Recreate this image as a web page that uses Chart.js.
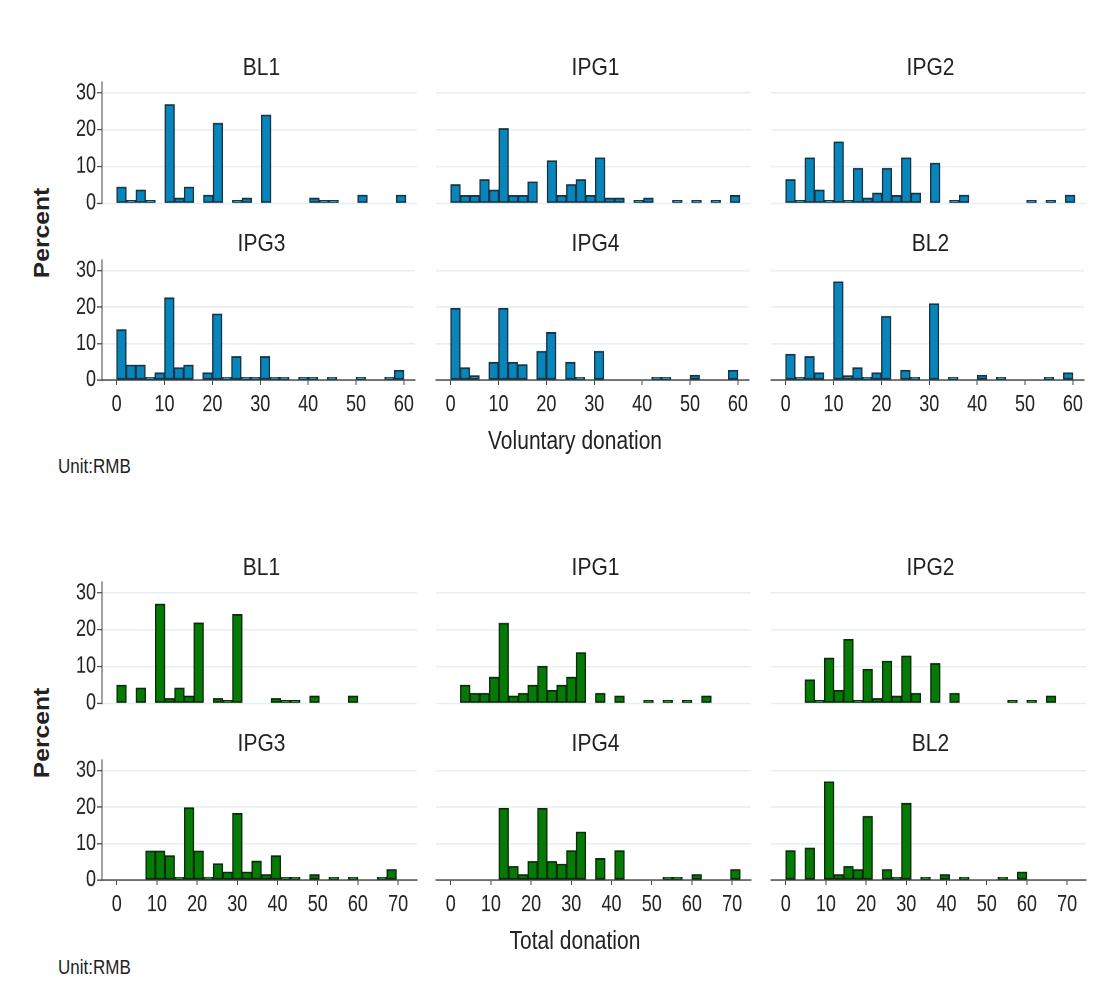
<!DOCTYPE html>
<html>
<head>
<meta charset="utf-8">
<script src="https://cdn.jsdelivr.net/npm/chart.js@4.4.0/dist/chart.umd.min.js"></script>
<style>
  body { margin: 0; background: #fff; }
  #page { position: relative; width: 1105px; height: 1001px; overflow: hidden; font-family: 'Liberation Sans', Arial, sans-serif; color: #222; }
  canvas { position: absolute; transform-origin: 0 0; }
  .lbl { position: absolute; white-space: nowrap; transform: translate(-50%, -50%); }
</style>
</head>
<body>
<div id="page"></div>
<script>
// groups shown in each block, in panel order
const groups = ['BL1', 'IPG1', 'IPG2', 'IPG3', 'IPG4', 'BL2'];

// histogram bins (30 bins per block)
const volBinWidth = 2;
const totBinWidth = 2.4;
const volTicks = [0, 10, 20, 30, 40, 50, 60];
const totTicks = [0, 10, 20, 30, 40, 50, 60, 70];
const pctTicks = [0, 10, 20, 30];

// percent in each bin, voluntary donation
const volBL1  = [4.4, 0.6, 3.6, 0.6, 0, 26.9, 1.4, 4.4, 0, 2.2, 21.8, 0, 0.6, 1.4, 0, 24.0, 0, 0, 0, 0, 1.4, 0.5, 0.5, 0, 0, 2.2, 0, 0, 0, 2.2];
const volIPG1 = [5.1, 2.1, 2.1, 6.5, 3.6, 20.3, 2.1, 2.1, 5.8, 0, 11.6, 2.1, 5.1, 6.5, 2.1, 12.4, 1.4, 1.4, 0, 0.6, 1.4, 0, 0, 0.6, 0, 0.6, 0, 0.6, 0, 2.1];
const volIPG2 = [6.5, 0.6, 12.4, 3.6, 0.6, 16.7, 0.6, 9.5, 1.4, 2.8, 9.5, 2.1, 12.4, 2.8, 0, 10.9, 0, 0.6, 2.2, 0, 0, 0, 0, 0, 0, 0.6, 0, 0.6, 0, 2.2];
const volIPG3 = [13.8, 4.1, 4.1, 0.5, 2.0, 22.6, 3.4, 4.1, 0, 2.0, 18.2, 0.5, 6.4, 0.5, 0.5, 6.4, 0.5, 0.5, 0, 0.5, 0.5, 0, 0.5, 0, 0, 0.5, 0, 0, 0.5, 2.7];
const volIPG4 = [19.7, 3.4, 1.2, 0, 4.9, 19.7, 4.9, 4.2, 0, 7.9, 13.1, 0, 4.9, 0.5, 0, 7.9, 0, 0, 0, 0, 0, 0.5, 0.5, 0, 0, 1.3, 0, 0, 0, 2.7];
const volBL2  = [7.1, 0.5, 6.4, 2.0, 0, 27.0, 1.2, 3.4, 0.5, 2.0, 17.5, 0, 2.7, 0.5, 0, 21.0, 0, 0.5, 0, 0, 1.3, 0, 0.5, 0, 0, 0, 0, 0.5, 0, 2.0];

// percent in each bin, total donation
const totBL1  = [4.9, 0, 4.2, 0, 27.0, 1.3, 4.2, 2.0, 21.9, 0, 1.3, 0.5, 24.2, 0, 0, 0, 1.3, 0.5, 0.5, 0, 2.0, 0, 0, 0, 2.0, 0, 0, 0, 0, 0];
const totIPG1 = [0, 4.9, 2.7, 2.7, 7.1, 21.8, 2.0, 2.7, 4.9, 10.1, 3.5, 4.9, 7.1, 13.8, 0, 2.7, 0, 2.0, 0, 0, 0.5, 0, 0.5, 0, 0.5, 0, 2.0, 0, 0, 0];
const totIPG2 = [0, 0, 6.4, 0.5, 12.3, 3.5, 17.4, 0.5, 9.3, 1.3, 11.5, 2.0, 12.9, 2.7, 0, 10.8, 0, 2.7, 0, 0, 0, 0, 0, 0.5, 0, 0.5, 0, 2.0, 0, 0];
const totIPG3 = [0, 0, 0, 8.0, 8.0, 6.7, 0.6, 19.9, 8.0, 0.6, 4.5, 2.2, 18.3, 2.2, 5.2, 1.5, 6.7, 0.6, 0.6, 0, 1.5, 0, 0.6, 0, 0.6, 0, 0, 0.6, 2.9, 0];
const totIPG4 = [0, 0, 0, 0, 0, 19.7, 3.7, 1.5, 5.1, 19.7, 5.1, 4.4, 8.1, 13.2, 0, 5.9, 0, 8.1, 0, 0, 0, 0, 0.6, 0.6, 0, 1.5, 0, 0, 0, 2.9];
const totBL2  = [8.1, 0, 8.8, 0, 27.0, 1.5, 3.7, 2.9, 17.5, 0, 2.9, 0.6, 21.1, 0, 0.6, 0, 1.5, 0, 0.6, 0, 0, 0, 0.6, 0, 2.2, 0, 0, 0, 0, 0];

const volData = [volBL1, volIPG1, volIPG2, volIPG3, volIPG4, volBL2];
const totData = [totBL1, totIPG1, totIPG2, totIPG3, totIPG4, totBL2];

const page = document.getElementById('page');
const FONT = "'Liberation Sans', Arial, sans-serif";
const AXIS = '#444';
const GRID = '#e8eff2';

// the source picture is stretched vertically; panels are drawn squeezed and scaled back up
const S = 1.25;
const colLeft = [102, 436, 771];
const plotW = 315;
const yAxisW = 45;
const xAxisH = 31;   // in unstretched canvas px
const padTop = 12;

function addLabel(text, x, y, css) {
  const d = document.createElement('div');
  d.className = 'lbl';
  d.textContent = text;
  d.style.left = x + 'px';
  d.style.top = y + 'px';
  Object.assign(d.style, css || {});
  page.appendChild(d);
}

function drawPanel(values, binW, xTicks, xMin, xMax, col, top, h, showX, fill, edge) {
  const showY = col === 0;
  const padBottom = showX ? 0 : 12;
  const areaH = Math.round(h / S);
  const canvas = document.createElement('canvas');
  canvas.width = yAxisW + plotW + 2;
  canvas.height = padTop + areaH + (showX ? xAxisH : padBottom);
  canvas.style.left = (colLeft[col] - yAxisW) + 'px';
  canvas.style.top = (top - padTop * S) + 'px';
  canvas.style.transform = 'scaleY(' + S + ')';
  page.appendChild(canvas);

  const pts = values.map((v, k) => ({ x: k * binW + binW / 2, y: v > 0 ? v : null }));

  new Chart(canvas.getContext('2d'), {
    type: 'bar',
    data: {
      datasets: [{
        data: pts,
        backgroundColor: fill,
        borderColor: edge,
        borderWidth: 1.4,
        borderSkipped: false,
        minBarLength: 2.2,
        barPercentage: 1,
        categoryPercentage: 1,
      }],
    },
    options: {
      responsive: false,
      animation: false,
      devicePixelRatio: 2,
      events: [],
      layout: { padding: { top: padTop, bottom: padBottom, left: 0, right: 2 } },
      plugins: { legend: { display: false }, tooltip: { enabled: false } },
      scales: {
        x: {
          type: 'linear',
          display: showX,
          offset: false,
          min: xMin,
          max: xMax,
          afterBuildTicks: s => { s.ticks = xTicks.map(v => ({ value: v })); },
          afterFit: s => { if (showX) s.height = xAxisH; },
          grid: { offset: false, drawOnChartArea: false, drawTicks: true, tickLength: 4, color: AXIS },
          border: { display: true, color: AXIS, width: 1 },
          ticks: { color: '#222', font: { family: FONT, size: 18 }, padding: 5, maxRotation: 0, autoSkip: false },
        },
        y: {
          min: 0,
          max: 33,
          afterBuildTicks: s => { s.ticks = pctTicks.map(v => ({ value: v })); },
          afterFit: s => { s.width = yAxisW; },
          grid: { color: GRID, lineWidth: 1.2, drawTicks: showY, tickLength: 5, tickColor: AXIS, tickWidth: 1 },
          border: { display: showY, color: AXIS, width: 1 },
          ticks: { display: showY, color: '#222', font: { family: FONT, size: 18 }, padding: 1 },
        },
      },
    },
  });
}

// block layout: chart-area tops and heights of the two rows (page px)
const blocks = [
  { data: volData, binW: volBinWidth, ticks: volTicks, xMin: -3.05, xMax: 62.3,
    rows: [[82, 121], [260, 120]], titleY: [67, 243], fill: '#0886bb', edge: '#163445',
    axisTitle: 'Voluntary donation', axisY: 441, percentY: 233, unitY: 467 },
  { data: totData, binW: totBinWidth, ticks: totTicks, xMin: -3.66, xMax: 74.7,
    rows: [[582, 121], [760, 120]], titleY: [567, 743], fill: '#057a05', edge: '#0b2b0b',
    axisTitle: 'Total donation', axisY: 941, percentY: 733, unitY: 968 },
];

blocks.forEach(b => {
  groups.forEach((g, i) => {
    const row = Math.floor(i / 3), col = i % 3;
    const [top, h] = b.rows[row];
    drawPanel(b.data[i], b.binW, b.ticks, b.xMin, b.xMax, col, top, h, row === 1, b.fill, b.edge);
    addLabel(g, colLeft[col] + plotW / 2 + 2, b.titleY[row], { fontSize: '21px', transform: 'translate(-50%, -50%) scaleY(1.1)' });
  });
  addLabel(b.axisTitle, 575, b.axisY, { fontSize: '21px', transform: 'translate(-50%, -50%) scaleY(1.2)' });
  addLabel('Percent', 42, b.percentY, { fontSize: '22px', fontWeight: 'bold', transform: 'translate(-50%, -50%) rotate(-90deg) scaleX(1.12)' });
  addLabel('Unit:RMB', 58, b.unitY, { fontSize: '17px', transform: 'translate(0, -50%) scaleY(1.2)' });
});
</script>
</body>
</html>
